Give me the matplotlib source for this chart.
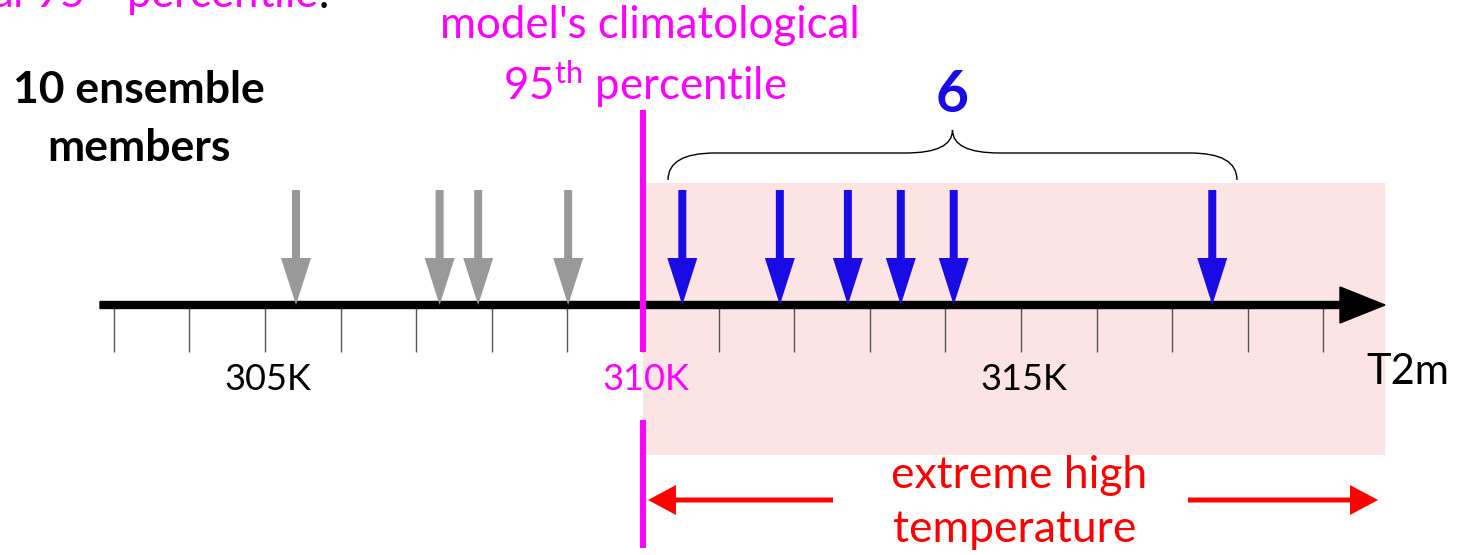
#!/usr/bin/env python3
"""Schematic: ensemble members vs. model climatological 95th percentile."""

import matplotlib
matplotlib.use("Agg")
import matplotlib.pyplot as plt
from matplotlib.patches import FancyArrow, Rectangle, PathPatch
from matplotlib.path import Path

plt.rcParams["font.family"] = ["Lato", "DejaVu Sans"]
plt.rcParams["mathtext.fontset"] = "custom"
plt.rcParams["mathtext.rm"] = "Lato"
plt.rcParams["mathtext.bf"] = "Lato:bold"

# data (K)
threshold = 310.0
members_below = [305.41, 307.31, 307.82, 309.01]
members_above = [310.52, 311.81, 312.71, 313.41, 314.11, 317.53]
tick_values = list(range(303, 320))
labelled_ticks = [305, 310, 315]
n_above = len(members_above)

GRAY = "#999999"
BLUE = "#1a0ae6"
MAGENTA = "#ff00ff"
RED = "#ff0000"
PINK = "#fde4e4"

# figure in pixels: 75.6 px per kelvin, 310 K at x = 643 px
PX_PER_K = 75.6
X0_PX = 643


def px(x):
    return threshold + (x - X0_PX) / PX_PER_K


fig = plt.figure(figsize=(14.63, 5.55), dpi=100)
ax = fig.add_axes([0, 0, 1, 1])
ax.set_xlim(px(0), px(1463))
ax.set_ylim(555, 0)
ax.axis("off")

# shaded extreme region
ax.add_patch(Rectangle((threshold, 183), px(1385) - threshold, 455 - 183,
                       facecolor=PINK, edgecolor="none", zorder=0))

# ticks
ax.vlines(tick_values, 305, 352, color="#555555", lw=1.0, zorder=2)

# main axis arrow
ax.add_patch(FancyArrow(px(100), 305, px(1385) - px(100), 0, width=7,
                        head_width=36, head_length=px(1385) - px(1340),
                        length_includes_head=True, color="black", zorder=3))

# member arrows
for vals, col in ((members_below, GRAY), (members_above, BLUE)):
    for v in vals:
        ax.add_patch(FancyArrow(v, 190, 0, 305 - 190, width=8 / PX_PER_K,
                                head_width=30 / PX_PER_K, head_length=47,
                                length_includes_head=True, color=col,
                                lw=0, zorder=4))

# threshold line (broken around its label)
ax.vlines(threshold, 110, 352, color=MAGENTA, lw=4.3, zorder=5)
ax.vlines(threshold, 420, 548, color=MAGENTA, lw=4.3, zorder=5)

# tick labels
for t in labelled_ticks:
    col = MAGENTA if t == threshold else "black"
    ax.text(t + 0.04, 380, f"{t}K", color=col, fontsize=26, ha="center",
            va="center", zorder=6)
ax.text(px(1408), 372, "T2m", fontsize=30, ha="center", va="center")

# brace over members above threshold
bl, br = px(668), px(1237)
bm = (bl + br) / 2
dx = 47 / PX_PER_K
verts = [(bl, 180), (bl, 153), (bl + dx, 153),
         (bm - dx, 153), (bm, 153), (bm, 130),
         (bm, 153), (bm + dx, 153),
         (br - dx, 153), (br, 153), (br, 180)]
codes = [Path.MOVETO, Path.CURVE3, Path.CURVE3,
         Path.LINETO, Path.CURVE3, Path.CURVE3,
         Path.CURVE3, Path.CURVE3,
         Path.LINETO, Path.CURVE3, Path.CURVE3]
ax.add_patch(PathPatch(Path(verts, codes), facecolor="none",
                       edgecolor="black", lw=1.0, zorder=4))
ax.text(bm, 95, str(n_above), color=BLUE, fontsize=41, fontweight="bold",
        ha="center", va="center")

# annotations
ax.text(px(139), 90, "10 ensemble", fontsize=32, fontweight="bold",
        ha="center", va="center")
ax.text(px(139), 148, "members", fontsize=32, fontweight="bold",
        ha="center", va="center")
ax.text(px(650), 25, "model's climatological", color=MAGENTA, fontsize=31.5,
        ha="center", va="center")
ax.text(px(645), 84, r"95$^{\mathrm{th}}$ percentile", color=MAGENTA,
        fontsize=31.5, ha="center", va="center")
ax.text(px(318), 8, r"climatological 95$^{\mathrm{th}}$ percentile",
        color=MAGENTA, fontsize=31.5, ha="right", va="baseline")
ax.text(px(319), 8, ".", color="black", fontsize=31.5, ha="left",
        va="baseline")

ax.text(px(1019), 475, "extreme high", color=RED, fontsize=32,
        ha="center", va="center")
ax.text(px(1015), 530, "temperature", color=RED, fontsize=32,
        ha="center", va="center")

# red range arrows
ax.add_patch(FancyArrow(px(833), 500, px(648) - px(833), 0, width=5,
                        head_width=30, head_length=px(833) - px(805),
                        length_includes_head=True, color=RED, lw=0))
ax.add_patch(FancyArrow(px(1188), 500, px(1378) - px(1188), 0, width=5,
                        head_width=30, head_length=px(1378) - px(1350),
                        length_includes_head=True, color=RED, lw=0))

fig.savefig("out.png", dpi=100)
